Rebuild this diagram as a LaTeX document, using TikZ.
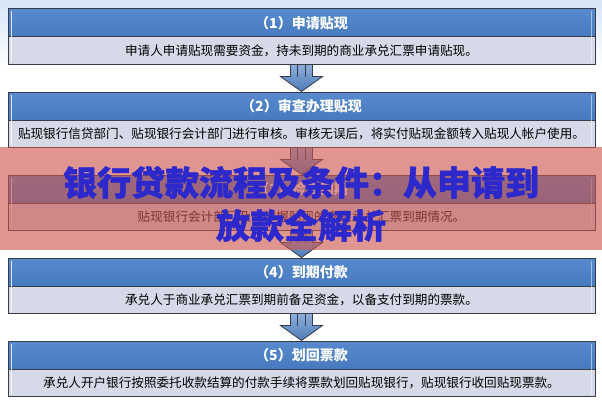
\documentclass[tikz,border=0pt]{standalone}
\usepackage{fontspec}
\usepackage{xcolor}
\usepackage{tikz}
\newfontfamily\cjk{Noto Sans CJK SC}
\newfontfamily\cjkheavy{Noto Sans CJK SC}[BoldFeatures={FakeBold=1.4}]
\definecolor{headblue}{RGB}{70, 122, 190}
\definecolor{headtop}{RGB}{88, 138, 205}
\definecolor{bodygray}{RGB}{214, 218, 232}
\definecolor{boxline}{RGB}{55, 60, 70}
\definecolor{arrowblue}{RGB}{78, 122, 184}
\definecolor{arrowtop}{RGB}{140, 175, 220}
\definecolor{skyblue}{RGB}{214, 230, 245}
\definecolor{bandpink}{RGB}{205, 85, 78}
\definecolor{titleblue}{RGB}{44, 40, 204}

\begin{document}
\begin{tikzpicture}[
        x=1pt, y=1pt,
        header/.style={rectangle, draw=boxline, line width=1pt, minimum width=587pt, minimum height=28pt, inner sep=0pt, top color=headtop, bottom color=headblue, text=white, font=\cjk\bfseries\fontsize{14}{14}\selectfont},
        body/.style={rectangle, draw=boxline, line width=1pt, minimum width=587pt, minimum height=27pt, inner sep=0pt, fill=bodygray, text=black, font=\cjk\fontsize{12.6}{13}\selectfont},
        shine/.style={white, line width=1.2pt, opacity=0.8},
        bigarrow/.style={draw=boxline, line width=0.8pt, top color=arrowtop, bottom color=arrowblue, line join=miter},
        stripe/.style={draw=boxline, line width=0.6pt},
        band/.style={fill=bandpink, opacity=0.62},
        title/.style={text=titleblue, align=center, font=\cjkheavy\bfseries\fontsize{34}{43}\selectfont}
    ]
    \useasboundingbox (0,0) rectangle (602,400);
    \fill[white] (0,0) rectangle (602,400);
    \shade[top color=skyblue, bottom color=white] (0,330) rectangle (602,400);

    % Steps
    \node[body] (b1) at (301.5, 349.5) {申请人申请贴现需要资金，持未到期的商业承兑汇票申请贴现。};
    \node[header] (h1) at (301.5, 377) {（1）申请贴现};

    \node[body] (b2) at (301.5, 266.5) {贴现银行信贷部门、贴现银行会计部门进行审核。审核无误后，将实付贴现金额转入贴现人帐户使用。};
    \node[header] (h2) at (301.5, 294) {（2）审查办理贴现};

    \node[body] (b3) at (301.5, 183.5) {贴现银行会计部门及时掌握贴现的商业承兑汇票到期情况。};
    \node[header] (h3) at (301.5, 211) {（3）检查到期};

    \node[body] (b4) at (301.5, 100.5) {承兑人于商业承兑汇票到期前备足资金，以备支付到期的票款。};
    \node[header] (h4) at (301.5, 128) {（4）到期付款};

    \node[body] (b5) at (301.5, 17.5) {承兑人开户银行按照委托收款结算的付款手续将票款划回贴现银行，贴现银行收回贴现票款。};
    \node[header] (h5) at (301.5, 45) {（5）划回票款};

    % side highlights
    \foreach \n in {1,...,5}{
        \draw[shine] ([xshift=4pt,yshift=-3pt]h\n.north west) -- ([xshift=4pt,yshift=3pt]b\n.south west);
        \draw[shine, opacity=0.5] ([xshift=-4pt,yshift=-3pt]h\n.north east) -- ([xshift=-4pt,yshift=3pt]b\n.south east);
    }

    % Block arrows
    \foreach \a/\b in {b1/h2, b2/h3, b3/h4, b4/h5}{
        \filldraw[bigarrow] ([xshift=-11pt]\a.south) -- ([xshift=-11pt,yshift=15pt]\b.north) -- ([xshift=-21pt,yshift=15pt]\b.north)
            -- (\b.north) -- ([xshift=21pt,yshift=15pt]\b.north) -- ([xshift=11pt,yshift=15pt]\b.north) -- ([xshift=11pt]\a.south) -- cycle;
        \draw[stripe] ([xshift=-4pt]\a.south) -- ([xshift=-4pt,yshift=15pt]\b.north);
        \draw[stripe] ([xshift=4pt]\a.south) -- ([xshift=4pt,yshift=15pt]\b.north);
    }

    % Title band
    \fill[band] (0,150) rectangle (602,253);
    \node[title] (heading) at (301, 196) {银行贷款流程及条件：从申请到\\放款全解析};
\end{tikzpicture}
\end{document}
